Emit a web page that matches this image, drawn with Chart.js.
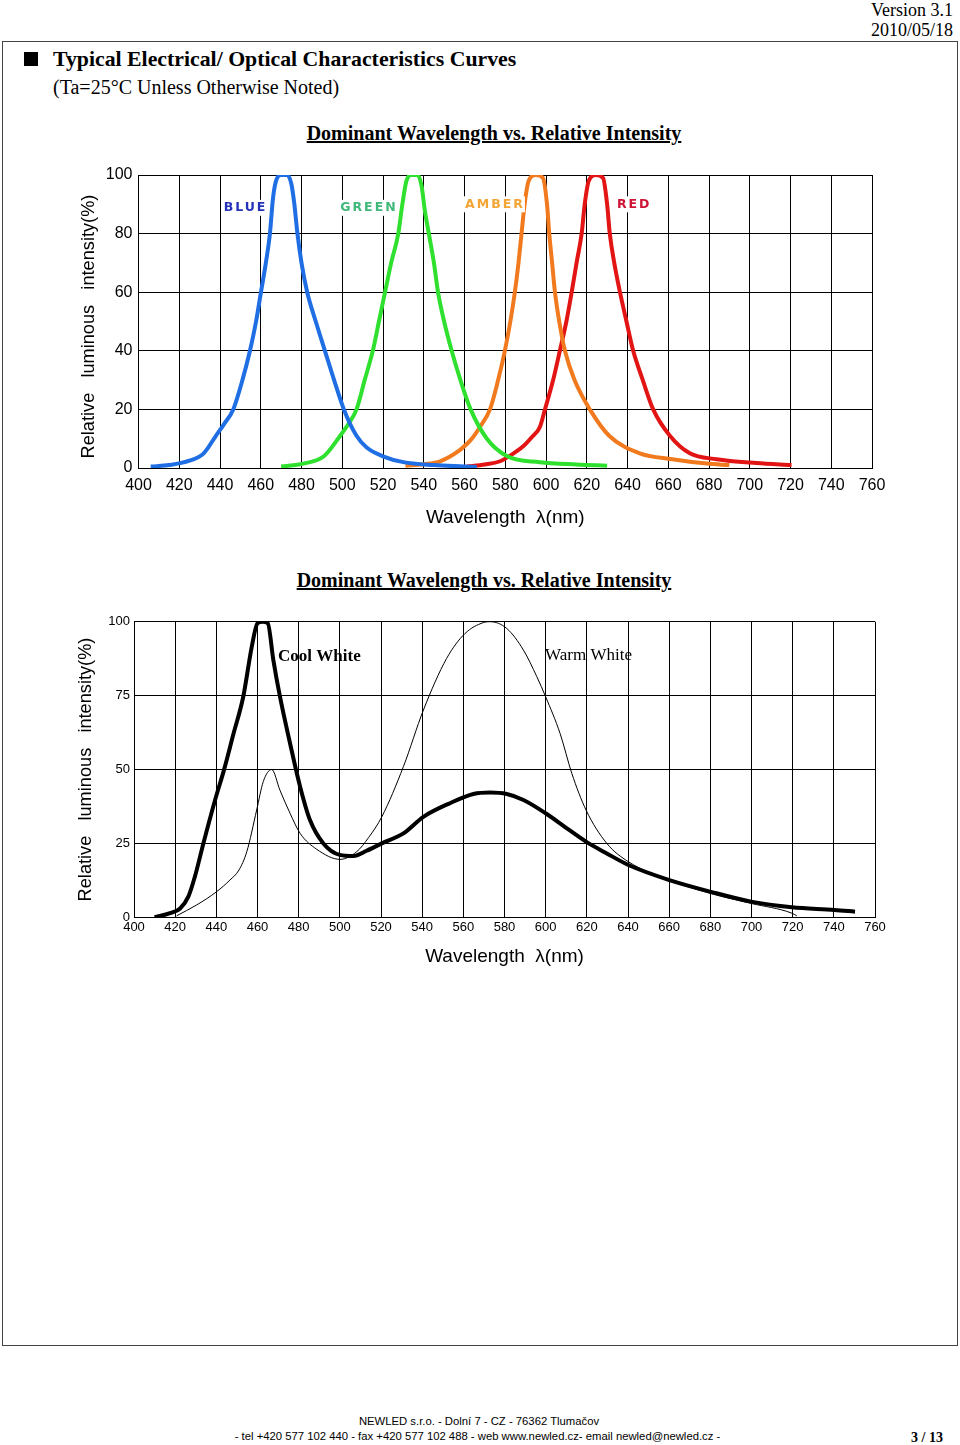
<!DOCTYPE html>
<html>
<head>
<meta charset="utf-8">
<script src="https://cdn.jsdelivr.net/npm/chart.js@4.4.1/dist/chart.umd.min.js"></script>
<style>
  html,body{margin:0;padding:0;background:#fff;}
  body{width:960px;height:1445px;position:relative;overflow:hidden;}
  .t{position:absolute;white-space:nowrap;color:#000;}
  .serif{font-family:"Liberation Serif","Times New Roman",serif;}
  .sans{font-family:"Liberation Sans",Arial,sans-serif;}
  #frame{position:absolute;left:2px;top:41px;width:954px;height:1303px;border:1px solid #444;}
  canvas{position:absolute;left:0;}
</style>
</head>
<body>
<div class="t serif" style="right:7px;top:0px;font-size:18px;line-height:20px;">Version 3.1</div>
<div class="t serif" style="right:7px;top:20px;font-size:18px;line-height:20px;">2010/05/18</div>
<div id="frame"></div>
<div style="position:absolute;left:24px;top:52px;width:14px;height:14px;background:#000;"></div>
<div class="t serif" style="left:53px;top:46px;font-size:21.8px;line-height:26px;font-weight:bold;">Typical Electrical/ Optical Characteristics Curves</div>
<div class="t serif" style="left:53px;top:75px;font-size:20px;line-height:24px;">(Ta=25°C Unless Otherwise Noted)</div>
<div class="t serif" style="left:0;width:988px;text-align:center;top:121px;font-size:20px;line-height:24px;font-weight:bold;text-decoration:underline;">Dominant Wavelength vs. Relative Intensity</div>
<div class="t serif" style="left:0;width:968px;text-align:center;top:568px;font-size:20px;line-height:24px;font-weight:bold;text-decoration:underline;">Dominant Wavelength vs. Relative Intensity</div>

<canvas id="c1" width="960" height="400" style="top:150px;"></canvas>
<canvas id="c2" width="960" height="380" style="top:600px;"></canvas>

<div class="t sans" style="left:0;width:958px;text-align:center;top:1414px;font-size:11.3px;line-height:14px;">NEWLED s.r.o. - Dolní 7 - CZ - 76362 Tlumačov</div>
<div class="t sans" style="left:0;width:955px;text-align:center;top:1429px;font-size:11.3px;line-height:14px;">- tel +420 577 102 440 - fax +420 577 102 488 - web www.newled.cz- email newled@newled.cz -</div>
<div class="t serif" style="left:911px;top:1430px;font-size:14px;line-height:16px;font-weight:bold;">3 / 13</div>

<script>
// ---------- Data ----------
// Chart 1: single-colour LEDs
const blueNm  = [406,415,425,432,438,442,446.5,451,454.7,457.7,460.1,462.5,464.5,466,467.5,470,473,475,476.5,478,480,482.8,487,491.5,496,500.8,507,512,520,530,545,560,566];
const blueVal = [0.5,1,2.5,5,11,15,20,30,40,50,60,70,80,92,98,100,100,97,90,80,70,60,50,40,30,20,11,7,4,2,1,0.5,0.3];

const greenNm  = [470,481,491,499,503,507,511,515,518,521,524,527.5,529.5,531.5,534,537,539,540.5,542.5,545,547,550,553.7,558,563,571,581,597,615,630];
const greenVal = [0.5,1.5,4,11,15,20,30,40,50,60,70,80,90,98,100,100,96,88,80,70,60,50,40,30,20,10,4,2,1.2,0.8];

const amberNm  = [531,540,548,558,563,567.6,572.5,576.5,579.8,582.5,584.7,586.5,588,589.5,591.5,595,598.5,600.5,601.6,603,604.4,606.5,609.3,614,621.5,631,646,662,679,690];
const amberVal = [0.8,1.3,2.3,6.3,9.5,14,20,30,40,50,60,70,80,90,98,100,99,90,80,70,60,50,40,30,20,11,5,3,1.5,1];

const redNm  = [561,570,577.4,583,588.8,593,597,599.5,603.5,606.8,610,612.6,615,617.5,619,621,624.5,628,630,631.3,633.5,636.3,639.5,642.8,647.5,652.6,660.8,670.6,683.7,703.3,720.5];
const redVal = [0.5,1.2,2.3,4.5,7.4,10.5,14,20,30,40,50,60,70,80,90,98,100,99,90,80,70,60,50,40,30,20,11,5,3,1.7,1];

// Chart 2: white LEDs
const coolNm  = [410,417.5,422.4,426.4,429.6,433.7,439.4,443.7,448.3,453.1,457.2,460,462.5,465,467.7,470.9,475.8,480.7,485.5,492,500,506.6,513,520.4,530.9,540.6,553.5,564.9,573,581.1,589.2,600,610.3,619.6,629.7,640.2,660.1,679.9,699.8,719.6,740.3,750.3];
const coolVal = [0,1.4,3,7,13.8,25,39.7,49.8,62,74.7,91.5,99.5,100,99.5,87,74.7,58.9,44.2,32.9,25,21.1,20.7,22.5,25,28.4,34,38.6,41.7,42.2,41.7,39.7,35.2,30.1,25.6,21.6,17.7,12.6,8.7,5.3,3.4,2.5,1.9];

const warmNm  = [420.7,430.5,440.2,446.6,451,454.8,459.6,462.8,466.9,470.9,475.8,480.7,488.8,500.1,508.2,514,520.4,530.9,540.6,551.9,560.8,569.7,573,581.1,589.2,595.7,600,607,612.7,619.6,629.7,640.2,660.1,679.9,699.8,719.6,722];
const warmVal = [0.5,4.2,8.7,12.6,16,22.2,36.3,45.9,50,43,35.2,28.4,23,19.6,22.2,27,34,51,70.1,87.6,96,99.7,100,97.7,90.4,81.4,74.6,62.2,48.7,36.3,25,18.8,12.6,8.1,4.7,1.4,0.5];

// Axis ranges / ticks
const xMin = 400, xMax = 760, xStep = 20;
const y1Max = 100, y1Step = 20;
const y2Max = 100, y2Step = 25;

// Text
const yTitle1 = 'Relative   luminous   intensity(%)  ';
const yTitle2 = 'Relative   luminous   intensity(%)';
const xTitle = 'Wavelength  \u03BB(nm)';
const chart1Labels = [
  {text:'BLUE',  nm:441.8, val:88.8, color:'#2332b8'},
  {text:'GREEN', nm:499.0, val:88.8, color:'#3fb87a'},
  {text:'AMBER', nm:560.3, val:90.0, color:'#f2a534'},
  {text:'RED',   nm:634.8, val:90.0, color:'#cf1535'}
];
const chart2Labels = [
  {text:'Cool White', nm:470.0, val:88.2, bold:true},
  {text:'Warm White', nm:599.7, val:88.5, bold:false}
];

// ---------- helpers ----------
const pts = (xs, ys) => xs.map((x, i) => ({x, y: ys[i]}));

const labelPlugin = {
  id: 'curveLabels',
  afterDatasetsDraw(chart, args, opts) {
    const {ctx} = chart;
    const xs = chart.scales.x, ys = chart.scales.y;
    (opts.items || []).forEach(it => {
      ctx.save();
      ctx.font = opts.fontFn(it);
      ctx.textBaseline = 'middle';
      ctx.textAlign = 'left';
      if ('letterSpacing' in ctx) ctx.letterSpacing = opts.spacing || '0px';
      const px = xs.getPixelForValue(it.nm), py = ys.getPixelForValue(it.val);
      if (opts.bg) {
        const w = ctx.measureText(it.text).width;
        ctx.fillStyle = '#fff';
        ctx.fillRect(px - 2, py - 8, w + 2, 16);
      }
      ctx.fillStyle = it.color || '#000';
      ctx.fillText(it.text, px, py);
      ctx.restore();
    });
  }
};

function makeChart(id, datasets, cfg) {
  return new Chart(document.getElementById(id), {
    type: 'line',
    data: {datasets},
    plugins: [labelPlugin],
    options: {
      responsive: false,
      animation: false,
      devicePixelRatio: 1,
      layout: {padding: cfg.padding},
      elements: {point: {radius: 0, hoverRadius: 0}},
      plugins: {
        legend: {display: false},
        tooltip: {enabled: false},
        curveLabels: cfg.labels
      },
      scales: {
        x: {
          type: 'linear', min: xMin, max: xMax,
          afterFit: s => { s.height = cfg.xHeight; },
          afterBuildTicks: s => { s.ticks = []; for (let v = xMin; v <= xMax; v += xStep) s.ticks.push({value: v}); },
          grid: {color: '#000', lineWidth: 1, drawTicks: false},
          border: {color: '#000', width: 1},
          ticks: {color: '#000', font: {family: 'Liberation Sans', size: cfg.tickSize}, padding: cfg.xTickPad, maxRotation: 0, autoSkip: false},
          title: {display: true, text: xTitle, color: '#000', font: {family: 'Liberation Sans', size: 19}, padding: {top: 0, bottom: cfg.xTitlePad}}
        },
        y: {
          type: 'linear', min: 0, max: cfg.yMax,
          afterFit: s => { s.width = cfg.yWidth; },
          afterBuildTicks: s => { s.ticks = []; for (let v = 0; v <= cfg.yMax; v += cfg.yStep) s.ticks.push({value: v}); },
          grid: {color: '#000', lineWidth: 1, drawTicks: false},
          border: {color: '#000', width: 1},
          ticks: {color: '#000', font: {family: 'Liberation Sans', size: cfg.tickSize}, padding: cfg.yTickPad},
          title: {display: true, text: cfg.yTitle, color: '#000', font: {family: 'Liberation Sans', size: 18.2}, padding: {top: cfg.yTitlePad, bottom: 0}}
        }
      }
    }
  });
}

const lineDs = (label, xs, ys, color, width) => ({
  label, data: pts(xs, ys), borderColor: color, borderWidth: width,
  fill: false, cubicInterpolationMode: 'monotone', pointRadius: 0
});

makeChart('c1', [
  lineDs('BLUE',  blueNm,  blueVal,  '#1f6ee4', 4),
  lineDs('GREEN', greenNm, greenVal, '#2fe02f', 4),
  lineDs('AMBER', amberNm, amberVal, '#f27a1e', 4),
  lineDs('RED',   redNm,   redVal,   '#e31414', 4)
], {
  padding: {top: 25, right: 88, bottom: 0, left: 0},
  xHeight: 82, yWidth: 138.5, yMax: y1Max, yStep: y1Step, yTitle: yTitle1,
  tickSize: 16, xTickPad: 8, yTickPad: 6, xTitlePad: 21, yTitlePad: 78,
  labels: {items: chart1Labels, bg: true, spacing: '2px',
           fontFn: () => 'bold 12.5px "DejaVu Sans", Verdana, sans-serif'}
});

makeChart('c2', [
  lineDs('Cool White', coolNm, coolVal, '#000', 4),
  lineDs('Warm White', warmNm, warmVal, '#000', 1)
], {
  padding: {top: 21.7, right: 85, bottom: 0, left: 0},
  xHeight: 62.7, yWidth: 134, yMax: y2Max, yStep: y2Step, yTitle: yTitle2,
  tickSize: 13, xTickPad: 2, yTickPad: 4, xTitlePad: 12, yTitlePad: 75,
  labels: {items: chart2Labels, bg: false, spacing: '0px',
           fontFn: it => (it.bold ? 'bold ' : '') + '17px "Liberation Serif", "Times New Roman", serif'}
});
</script>
</body>
</html>
